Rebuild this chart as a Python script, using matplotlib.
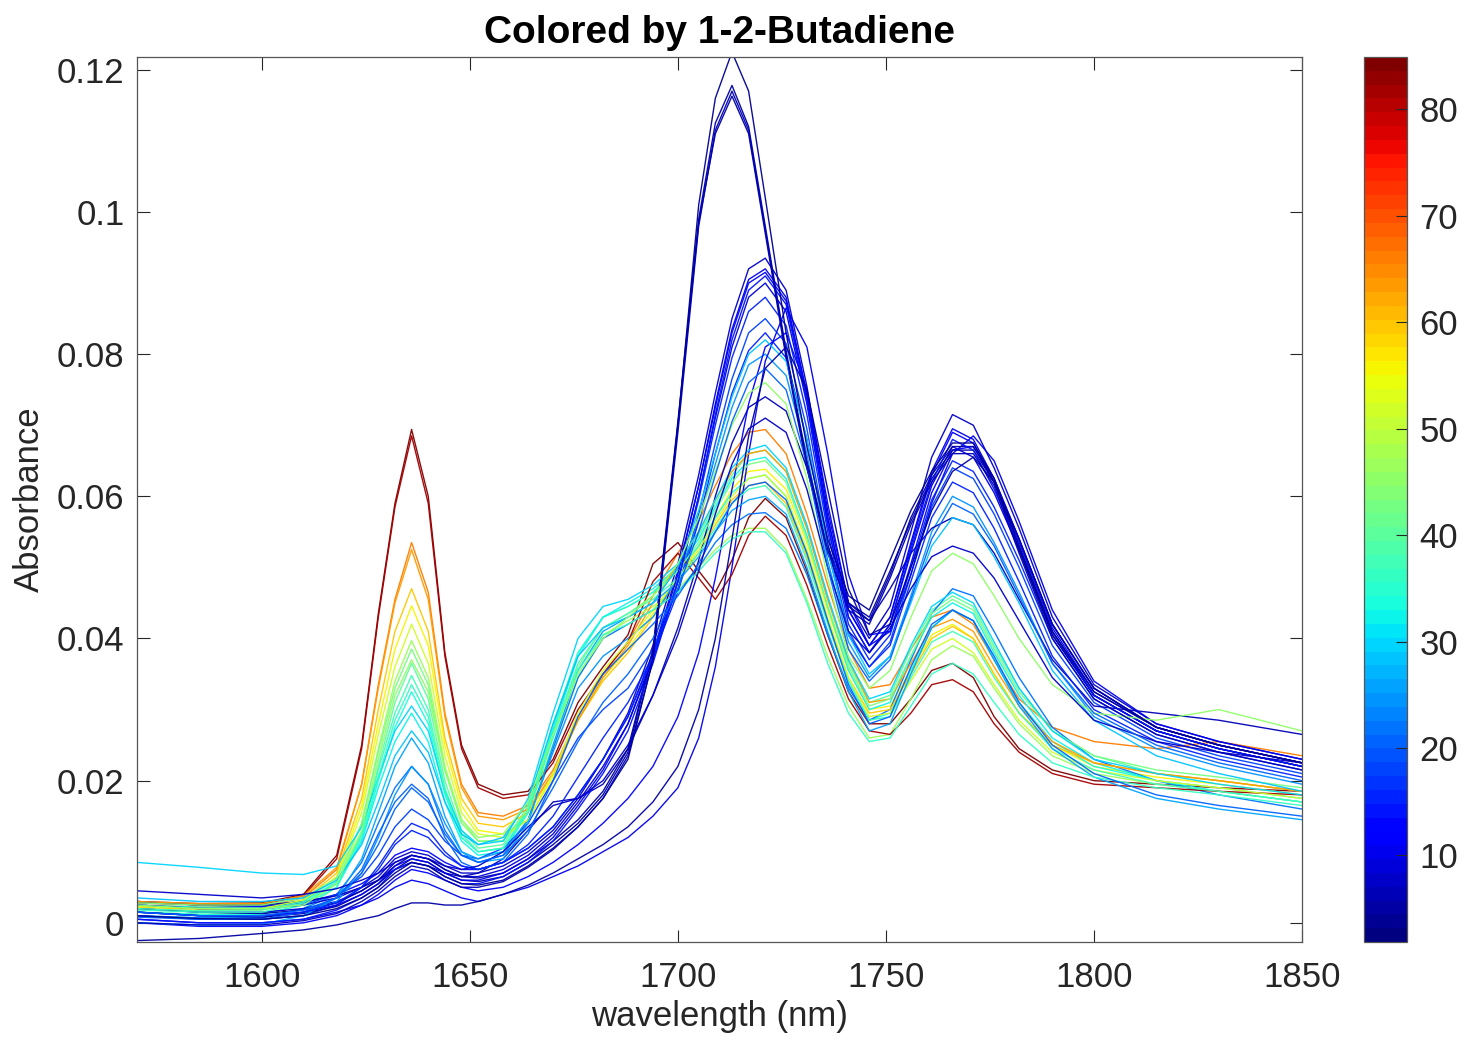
import numpy as np
import matplotlib
matplotlib.use("Agg")
import matplotlib.pyplot as plt
from matplotlib.colors import Normalize
from matplotlib.cm import ScalarMappable

plt.rcParams["font.family"] = ["Liberation Sans", "DejaVu Sans"]

# Sampling wavelengths (nm) of the NIR spectra
wavelength_nm = [1570, 1585, 1600, 1610, 1618, 1624, 1628, 1632, 1636, 1640,
                 1644, 1648, 1652, 1658, 1664, 1670, 1676, 1682, 1688, 1694,
                 1700, 1705, 1709, 1713, 1717, 1721, 1726, 1731, 1736, 1741,
                 1746, 1751, 1756, 1761, 1766, 1771, 1776, 1782, 1790, 1800,
                 1815, 1830, 1850]

# Samples with the strong 1713 nm band (absorbance in milli-units)
conc_high = [3.5, 5.0, 6.0, 4.5]
spectra_high = [
    [1.0, 0.6, 0.5, 1.0, 2.0, 3.5, 5.0, 7.0, 8.5, 8.0, 6.5, 5.5, 5.3, 6.0, 8.0, 10.5, 13.5, 17.5, 23.0, 37.0, 70.0, 101.0, 116.0, 122.5, 117.0, 102.0, 83.0, 67.0, 54.0, 46.0, 44.0, 51.0, 58.0, 63.5, 67.5, 67.5, 62.5, 53.0, 41.0, 32.5, 27.5, 25.0, 22.5],
    [2.0, 1.5, 1.3, 1.8, 2.8, 4.5, 6.0, 8.0, 9.5, 9.0, 7.5, 6.5, 6.3, 7.0, 9.0, 11.5, 14.5, 18.5, 24.5, 38.5, 70.5, 99.0, 112.5, 117.8, 112.0, 98.0, 80.5, 65.0, 53.0, 45.0, 43.0, 49.5, 56.5, 62.5, 66.5, 66.5, 62.0, 52.5, 40.5, 32.0, 27.0, 24.5, 22.0],
    [0.0, -0.3, -0.3, 0.3, 1.3, 3.0, 4.5, 6.5, 8.0, 7.5, 6.0, 5.0, 5.0, 5.8, 7.8, 10.3, 13.5, 17.5, 23.5, 37.0, 69.0, 98.0, 111.5, 117.0, 111.5, 97.5, 80.0, 64.5, 52.5, 44.0, 42.0, 48.5, 56.0, 62.0, 66.0, 66.0, 61.5, 52.0, 40.0, 31.5, 26.5, 24.0, 21.5],
    [1.5, 1.0, 0.8, 1.3, 2.3, 4.0, 5.5, 7.5, 9.0, 8.5, 7.0, 6.0, 5.8, 6.5, 8.5, 11.0, 14.0, 18.0, 24.0, 38.0, 70.0, 98.5, 111.0, 116.3, 111.0, 97.0, 79.5, 64.0, 52.0, 44.5, 42.5, 49.0, 57.0, 63.0, 67.0, 67.0, 62.0, 52.5, 40.5, 32.0, 27.0, 24.5, 22.0],
]

# Low-butadiene samples with the main band near 1720 nm
conc_blue = [8, 10, 12, 14, 9, 16, 18, 28, 24, 45, 6, 7, 15, 20]
spectra_blue = [
    [2.5, 2.0, 2.0, 2.5, 3.5, 5.0, 6.5, 9.0, 10.0, 9.5, 8.0, 7.0, 7.0, 8.0, 10.0, 13.0, 17.5, 23.0, 29.5, 39.0, 50.5, 63.0, 74.5, 85.0, 92.0, 93.5, 89.0, 75.5, 58.0, 45.0, 40.0, 44.5, 55.0, 65.5, 71.5, 70.0, 64.0, 55.5, 43.0, 33.5, 28.0, 25.5, 23.0],
    [1.5, 1.0, 1.0, 1.5, 2.5, 4.0, 5.5, 8.0, 9.0, 8.5, 7.0, 6.0, 6.0, 7.0, 9.0, 12.0, 16.5, 21.5, 28.0, 37.5, 49.0, 61.5, 73.0, 83.5, 90.5, 92.0, 88.0, 74.5, 57.0, 44.0, 39.0, 43.0, 53.5, 63.5, 69.5, 68.0, 62.5, 54.0, 42.0, 33.0, 27.5, 25.0, 22.5],
    [3.0, 2.5, 2.3, 2.8, 4.0, 5.5, 7.0, 9.5, 10.5, 10.0, 8.5, 7.5, 7.5, 8.5, 10.5, 13.5, 18.0, 23.0, 29.0, 38.0, 49.5, 61.5, 72.5, 83.0, 90.0, 91.5, 87.5, 74.0, 57.0, 44.0, 39.0, 43.0, 53.0, 63.0, 69.0, 67.5, 62.0, 53.5, 41.5, 32.5, 27.5, 25.0, 22.5],
    [0.5, 0.0, 0.0, 0.5, 1.8, 3.5, 5.0, 7.5, 8.5, 8.0, 6.5, 5.5, 5.5, 6.5, 8.5, 11.5, 16.0, 21.0, 27.0, 36.5, 48.0, 60.0, 71.5, 82.0, 89.0, 91.0, 87.0, 73.5, 56.0, 43.0, 38.0, 42.0, 52.5, 62.0, 68.0, 66.5, 61.0, 53.0, 41.0, 32.0, 27.0, 24.5, 22.0],
    [2.0, 1.5, 1.5, 2.0, 3.0, 4.5, 6.0, 8.5, 9.5, 9.0, 7.5, 6.5, 6.5, 7.5, 9.5, 12.5, 17.0, 22.0, 28.0, 37.0, 48.0, 60.0, 71.0, 81.0, 88.0, 90.0, 86.0, 73.0, 56.0, 43.0, 38.0, 42.0, 52.0, 61.5, 67.0, 65.5, 60.5, 52.5, 41.0, 32.0, 27.0, 24.5, 22.0],
    [1.5, 1.0, 1.0, 1.5, 2.8, 5.0, 7.5, 11.0, 13.0, 12.0, 9.5, 8.0, 7.5, 8.5, 10.5, 13.5, 18.0, 23.0, 29.0, 37.5, 48.0, 59.5, 70.0, 79.5, 86.0, 88.0, 84.0, 71.5, 55.0, 42.0, 37.0, 40.5, 50.0, 59.5, 65.0, 63.5, 58.5, 51.0, 40.0, 31.5, 26.5, 24.0, 21.5],
    [2.5, 2.0, 2.0, 2.5, 4.0, 6.5, 9.5, 13.5, 16.0, 14.5, 11.5, 9.5, 9.0, 10.5, 14.0, 20.0, 26.0, 30.0, 33.0, 38.5, 47.0, 57.5, 67.5, 76.5, 83.0, 85.0, 81.5, 69.5, 53.5, 41.0, 36.0, 39.5, 49.0, 58.5, 64.0, 62.5, 57.5, 50.0, 39.0, 31.0, 26.0, 23.5, 21.0],
    [3.5, 3.0, 3.0, 3.5, 6.0, 11.0, 17.0, 23.5, 27.0, 24.0, 17.0, 12.5, 11.0, 12.0, 17.0, 28.0, 37.5, 41.5, 43.0, 45.0, 50.0, 58.0, 66.0, 74.0, 80.0, 82.0, 79.0, 68.0, 52.5, 40.5, 35.0, 37.5, 45.0, 53.0, 57.0, 56.0, 51.5, 45.0, 35.5, 28.5, 23.5, 21.0, 18.5],
    [1.0, 0.5, 0.5, 1.0, 3.0, 7.0, 12.0, 18.0, 22.0, 19.5, 14.0, 10.0, 9.0, 10.0, 14.5, 24.0, 33.0, 37.5, 40.0, 43.0, 48.5, 56.5, 64.5, 72.5, 78.5, 80.0, 77.0, 66.0, 51.0, 39.5, 34.5, 37.5, 46.0, 55.0, 60.0, 58.5, 53.5, 46.5, 36.5, 29.0, 24.5, 22.0, 19.5],
    [2.5, 2.0, 2.0, 2.5, 5.5, 13.0, 23.0, 32.0, 37.0, 32.5, 21.5, 14.5, 12.0, 12.5, 17.0, 26.5, 35.0, 40.0, 43.0, 46.0, 50.5, 57.0, 63.5, 70.0, 74.5, 76.0, 73.0, 62.5, 48.5, 37.5, 33.0, 35.5, 43.0, 49.5, 52.0, 50.5, 46.0, 40.0, 33.5, 29.5, 28.5, 30.0, 27.0],
    [3.0, 2.5, 2.5, 3.0, 3.8, 5.0, 6.0, 7.5, 8.5, 8.0, 7.0, 6.5, 7.0, 9.0, 13.0, 17.0, 17.5, 19.5, 24.5, 32.0, 41.5, 51.0, 60.0, 67.5, 72.5, 74.0, 72.0, 64.0, 53.0, 45.0, 42.5, 47.0, 52.0, 55.5, 57.0, 56.0, 52.0, 45.5, 37.0, 30.5, 29.5, 28.5, 26.5],
    [4.5, 4.0, 3.5, 4.0, 4.8, 6.0, 7.0, 8.5, 9.5, 9.0, 8.0, 7.5, 8.0, 10.0, 13.5, 16.5, 17.5, 20.0, 25.0, 32.0, 40.5, 49.5, 57.5, 64.5, 69.5, 71.0, 69.0, 61.0, 50.0, 41.0, 38.0, 41.5, 47.0, 51.5, 53.0, 52.0, 48.5, 42.5, 34.5, 28.5, 25.5, 24.0, 22.5],
    [1.0, 0.5, 0.5, 1.0, 2.5, 5.0, 8.0, 11.5, 14.0, 13.0, 10.0, 8.0, 7.5, 8.5, 11.0, 15.0, 20.5, 26.0, 31.0, 37.5, 46.5, 56.5, 66.0, 74.5, 80.5, 83.0, 79.5, 68.0, 52.5, 40.5, 36.0, 39.0, 48.0, 57.0, 62.0, 60.5, 55.5, 48.0, 37.5, 30.0, 25.5, 23.0, 20.5],
    [1.5, 1.0, 1.0, 1.8, 3.5, 7.0, 11.0, 16.0, 19.0, 17.0, 12.5, 9.5, 8.5, 9.5, 13.0, 19.0, 25.5, 31.0, 35.0, 40.0, 47.0, 55.0, 63.0, 70.5, 76.0, 78.0, 75.0, 64.5, 50.0, 38.5, 34.0, 37.0, 45.5, 54.0, 59.0, 57.5, 53.0, 46.0, 36.5, 29.5, 25.0, 22.5, 20.0],
]

# Samples whose bands sit a few nm to the red
conc_shifted = [10, 5, 12]
spectra_shifted = [
    [0.5, 0.0, 0.0, 0.5, 1.5, 2.5, 3.5, 5.0, 6.0, 5.5, 4.5, 3.5, 3.0, 4.0, 5.0, 6.5, 8.0, 10.0, 12.0, 15.0, 19.0, 26.0, 36.0, 50.0, 66.0, 79.0, 86.5, 81.0, 66.0, 49.0, 40.5, 41.0, 49.0, 59.0, 66.0, 68.5, 65.0, 56.5, 44.0, 34.0, 28.0, 25.5, 23.0],
    [-2.5, -2.2, -1.5, -1.0, -0.3, 0.5, 1.0, 2.0, 2.8, 2.8, 2.5, 2.5, 3.0, 4.0, 5.3, 7.0, 9.0, 11.0, 13.5, 17.0, 22.0, 30.0, 40.0, 54.0, 68.5, 78.0, 81.0, 75.0, 61.0, 47.0, 40.5, 42.0, 50.0, 58.0, 63.5, 65.5, 62.0, 54.0, 42.0, 33.0, 27.5, 25.0, 22.5],
    [0.0, -0.5, -0.5, 0.0, 1.0, 2.5, 4.0, 6.0, 7.5, 7.0, 6.0, 5.0, 4.5, 5.0, 6.5, 8.5, 11.0, 14.0, 17.5, 22.0, 29.0, 38.0, 48.5, 61.0, 73.0, 81.0, 83.0, 75.0, 59.0, 45.0, 39.0, 41.0, 50.5, 60.5, 66.5, 67.0, 62.5, 54.0, 42.0, 33.0, 27.5, 25.0, 22.5],
]

# Butadiene-rich samples with the 1636 nm band
conc_mixed = [84.5, 82, 66, 64, 56, 52, 47, 43, 40, 37, 34, 30, 22, 26, 32, 36, 59, 20]
spectra_mixed = [
    [3.0, 2.7, 2.8, 4.0, 9.5, 25.0, 43.5, 59.0, 69.4, 60.0, 38.0, 25.0, 19.5, 18.0, 18.5, 23.0, 31.0, 36.0, 40.5, 50.5, 53.5, 49.5, 46.5, 51.0, 57.0, 59.7, 57.0, 49.5, 40.5, 32.5, 28.0, 28.0, 31.5, 35.5, 36.5, 34.5, 29.0, 24.5, 21.5, 20.0, 19.5, 19.0, 18.5],
    [2.8, 2.5, 2.6, 3.8, 9.0, 24.5, 43.0, 58.5, 68.5, 59.0, 37.5, 24.5, 19.0, 17.5, 18.0, 22.5, 30.0, 35.0, 39.5, 48.0, 52.0, 48.5, 45.5, 49.0, 54.5, 57.2, 54.5, 47.5, 39.0, 31.5, 27.0, 26.5, 29.5, 33.5, 34.2, 32.5, 28.0, 24.0, 21.0, 19.5, 19.0, 18.5, 18.0],
    [2.5, 2.2, 2.3, 3.5, 7.5, 19.5, 33.5, 45.5, 53.5, 46.5, 29.5, 19.5, 15.5, 15.0, 16.5, 21.5, 29.0, 35.0, 39.5, 46.0, 52.0, 56.5, 61.5, 66.0, 69.0, 69.4, 66.0, 57.5, 47.5, 38.5, 33.0, 33.5, 38.5, 43.0, 44.0, 42.0, 37.0, 31.5, 27.5, 25.5, 24.5, 25.5, 23.5],
    [3.0, 2.7, 2.7, 3.8, 7.8, 19.5, 33.0, 45.0, 52.5, 45.5, 29.0, 19.0, 15.0, 14.5, 16.0, 21.0, 28.5, 34.5, 39.0, 45.0, 50.5, 55.0, 59.5, 63.5, 66.0, 66.5, 63.5, 55.5, 45.5, 37.0, 31.0, 31.5, 36.5, 41.5, 42.7, 41.0, 36.0, 30.5, 25.5, 22.5, 21.0, 20.0, 18.5],
    [2.0, 1.7, 1.8, 3.0, 6.5, 16.5, 28.0, 38.5, 44.6, 39.0, 25.0, 16.5, 13.0, 12.5, 14.5, 20.5, 28.5, 34.5, 38.5, 43.5, 48.5, 53.0, 57.0, 61.0, 63.5, 63.8, 61.0, 53.5, 44.0, 35.5, 30.0, 30.5, 35.5, 40.5, 42.0, 40.0, 35.0, 29.5, 25.0, 22.0, 20.5, 19.5, 18.0],
    [2.3, 2.0, 2.0, 3.2, 6.3, 15.5, 26.5, 36.0, 42.0, 36.5, 23.5, 15.5, 12.5, 12.0, 14.5, 21.0, 29.5, 35.5, 39.5, 44.0, 48.5, 52.5, 56.5, 60.0, 62.5, 63.0, 60.0, 52.5, 43.0, 34.5, 29.0, 29.5, 34.0, 38.5, 40.0, 38.0, 33.5, 28.5, 24.0, 21.5, 20.0, 19.0, 17.5],
    [1.5, 1.2, 1.3, 2.5, 5.5, 14.0, 24.5, 34.0, 39.7, 34.5, 22.0, 14.5, 11.5, 11.5, 15.5, 25.0, 34.5, 40.5, 42.5, 44.5, 47.0, 50.0, 52.5, 54.5, 55.5, 55.5, 52.5, 45.5, 37.5, 30.5, 26.0, 26.5, 31.5, 37.0, 39.0, 37.5, 33.0, 28.0, 23.5, 21.0, 19.5, 18.5, 17.0],
    [2.8, 2.5, 2.5, 3.5, 6.3, 14.0, 24.0, 33.0, 38.5, 33.5, 21.5, 14.0, 11.5, 11.5, 16.0, 26.5, 36.0, 41.5, 43.5, 46.0, 49.5, 53.5, 58.0, 62.0, 64.5, 65.0, 62.0, 54.0, 44.5, 36.0, 30.5, 31.5, 37.5, 43.5, 45.5, 44.0, 38.5, 32.5, 27.0, 23.5, 21.5, 20.5, 19.0],
    [1.0, 0.7, 0.7, 2.0, 5.0, 12.5, 22.0, 31.0, 36.5, 31.5, 20.0, 13.0, 10.5, 11.0, 16.5, 28.0, 38.0, 43.0, 44.5, 46.5, 50.0, 54.5, 59.0, 63.0, 66.0, 66.5, 63.5, 55.5, 45.5, 36.5, 31.0, 32.0, 38.5, 44.0, 46.0, 44.5, 39.0, 33.0, 27.0, 23.5, 21.0, 20.0, 18.5],
    [2.0, 1.7, 1.8, 3.0, 5.8, 12.5, 21.5, 29.5, 34.8, 30.0, 19.0, 12.5, 10.0, 10.5, 15.5, 26.5, 36.5, 41.5, 43.5, 45.5, 48.5, 52.0, 55.5, 59.0, 61.0, 61.5, 58.5, 51.0, 42.0, 34.0, 28.5, 29.0, 34.5, 39.5, 41.0, 39.5, 34.5, 29.5, 24.5, 21.5, 19.5, 18.5, 17.0],
    [1.5, 1.2, 1.2, 2.5, 5.0, 11.5, 20.0, 27.5, 32.5, 28.0, 18.0, 12.0, 10.0, 10.5, 16.0, 27.5, 38.0, 43.0, 44.5, 46.5, 49.5, 53.0, 57.0, 60.5, 62.5, 63.0, 60.0, 52.0, 42.5, 34.0, 28.5, 29.5, 35.5, 41.5, 44.0, 42.5, 37.0, 31.0, 25.5, 22.0, 20.0, 19.0, 17.5],
    [8.5, 7.8, 7.0, 6.8, 8.0, 13.5, 20.5, 27.0, 30.5, 27.0, 18.5, 13.0, 11.0, 11.5, 17.5, 29.5, 40.0, 44.5, 45.5, 47.5, 50.5, 55.0, 59.5, 64.0, 66.5, 67.2, 64.0, 56.0, 46.0, 37.0, 31.5, 32.5, 39.0, 44.5, 46.5, 45.0, 39.5, 33.0, 27.0, 23.0, 21.0, 19.5, 18.0],
    [1.0, 0.7, 0.7, 2.0, 4.0, 8.5, 14.0, 19.0, 22.0, 19.5, 13.0, 9.5, 8.5, 9.5, 14.5, 24.5, 34.5, 40.0, 42.0, 44.0, 46.5, 50.0, 53.5, 56.0, 57.5, 57.7, 55.5, 49.0, 40.5, 33.0, 28.5, 30.0, 37.0, 43.5, 47.0, 46.0, 41.0, 34.5, 27.5, 23.0, 20.0, 18.0, 16.0],
    [0.0, -0.3, -0.2, 1.0, 3.5, 9.0, 15.5, 22.0, 26.0, 22.5, 15.0, 10.0, 8.5, 9.0, 14.0, 25.0, 35.5, 41.0, 43.0, 45.0, 48.0, 51.5, 55.0, 58.0, 59.5, 60.0, 57.5, 50.0, 41.0, 32.5, 27.0, 28.0, 35.0, 41.5, 44.0, 42.5, 37.0, 30.5, 24.5, 20.5, 17.5, 16.0, 14.5],
    [2.5, 2.2, 2.2, 3.2, 5.5, 11.5, 19.0, 25.5, 29.5, 25.5, 17.0, 11.5, 9.5, 10.0, 15.5, 27.0, 37.5, 43.0, 45.0, 47.0, 50.0, 54.0, 58.5, 62.5, 65.0, 65.5, 62.5, 54.5, 44.5, 35.5, 30.0, 31.0, 37.5, 43.0, 45.0, 43.5, 38.0, 32.0, 26.0, 22.5, 20.0, 18.5, 17.0],
    [1.8, 1.5, 1.5, 2.8, 5.5, 12.0, 20.5, 28.5, 33.5, 29.0, 18.5, 12.0, 10.0, 10.5, 15.5, 26.0, 35.5, 40.5, 42.0, 44.0, 46.5, 49.5, 52.0, 54.0, 55.0, 55.0, 52.0, 45.0, 36.5, 29.5, 25.5, 26.0, 30.5, 35.0, 36.5, 35.0, 31.0, 26.5, 22.5, 20.5, 19.0, 18.0, 16.5],
    [2.2, 1.9, 2.0, 3.2, 7.0, 17.5, 30.0, 41.0, 47.0, 41.0, 26.0, 17.5, 14.0, 13.5, 15.5, 21.0, 28.5, 34.0, 38.0, 43.0, 48.0, 52.0, 56.0, 59.5, 61.5, 62.0, 59.0, 51.5, 42.5, 34.5, 29.5, 30.0, 35.0, 40.0, 41.7, 40.0, 35.0, 29.5, 25.0, 22.5, 21.0, 20.0, 18.5],
    [0.8, 0.5, 0.5, 1.5, 3.5, 7.5, 12.5, 17.0, 19.5, 17.5, 12.0, 8.5, 7.5, 8.5, 12.5, 20.0, 29.0, 35.0, 38.5, 42.0, 46.0, 50.5, 55.0, 59.0, 61.5, 62.0, 59.5, 52.0, 42.5, 33.5, 28.0, 29.0, 36.0, 42.0, 44.0, 42.5, 37.5, 31.0, 25.0, 21.0, 18.0, 16.5, 15.0],
]

x_ticks = [1600, 1650, 1700, 1750, 1800, 1850]
y_ticks = [0, 0.02, 0.04, 0.06, 0.08, 0.1, 0.12]
y_tick_labels = ["0", "0.02", "0.04", "0.06", "0.08", "0.1", "0.12"]
cbar_ticks = [10, 20, 30, 40, 50, 60, 70, 80]
c_min, c_max = 1.8, 84.9

W, H = 1458, 1039
fig = plt.figure(figsize=(W / 100, H / 100), dpi=100)
ax = fig.add_axes([137 / W, 1 - 942 / H, (1302 - 137) / W, (942 - 57) / H])
cax = fig.add_axes([1364 / W, 1 - 942 / H, 43 / W, (942 - 57) / H])

cmap = plt.get_cmap("jet", 64)
norm = Normalize(vmin=c_min, vmax=c_max)

wl = np.array(wavelength_nm, dtype=float)
samples = []
for concs, rows in ((conc_mixed, spectra_mixed), (conc_blue, spectra_blue),
                    (conc_shifted, spectra_shifted), (conc_high, spectra_high)):
    for c, row in zip(concs, rows):
        samples.append((c, np.array(row) / 1000.0))

# interleave the groups so no single family sits entirely on top
order = list(range(len(samples)))
order = order[::2] + order[1::2]
for i in order:
    c, a = samples[i]
    ax.plot(wl, a, color=cmap(norm(c)), lw=1.0, alpha=0.95, solid_joinstyle="round")

axis_color = "#262626"
ax.set_xlim(1570, 1850)
ax.set_ylim(-0.0027, 0.1218)
ax.set_xticks(x_ticks)
ax.set_yticks(y_ticks)
ax.set_yticklabels(y_tick_labels)
ax.tick_params(axis="both", direction="in", length=9, width=0.8, colors=axis_color,
               labelsize=25, top=True, right=True)
ax.tick_params(axis="x", pad=14)
ax.tick_params(axis="y", pad=9)
for s in ax.spines.values():
    s.set_color("#555555")
    s.set_linewidth(0.9)
ax.set_xlabel("wavelength (nm)", fontsize=25, color=axis_color, labelpad=4)
ax.set_ylabel("Absorbance", fontsize=25, color=axis_color, labelpad=8)
ax.set_title("Colored by 1-2-Butadiene", fontsize=28, fontweight="bold",
             color="black", pad=10)

sm = ScalarMappable(norm=norm, cmap=cmap)
cb = fig.colorbar(sm, cax=cax)
cb.set_ticks(cbar_ticks)
cb.ax.tick_params(direction="in", length=8, width=0.8, colors=axis_color,
                  labelsize=25, pad=9)
cb.outline.set_edgecolor("#555555")
cb.outline.set_linewidth(0.9)

fig.savefig("out.png", dpi=100)
